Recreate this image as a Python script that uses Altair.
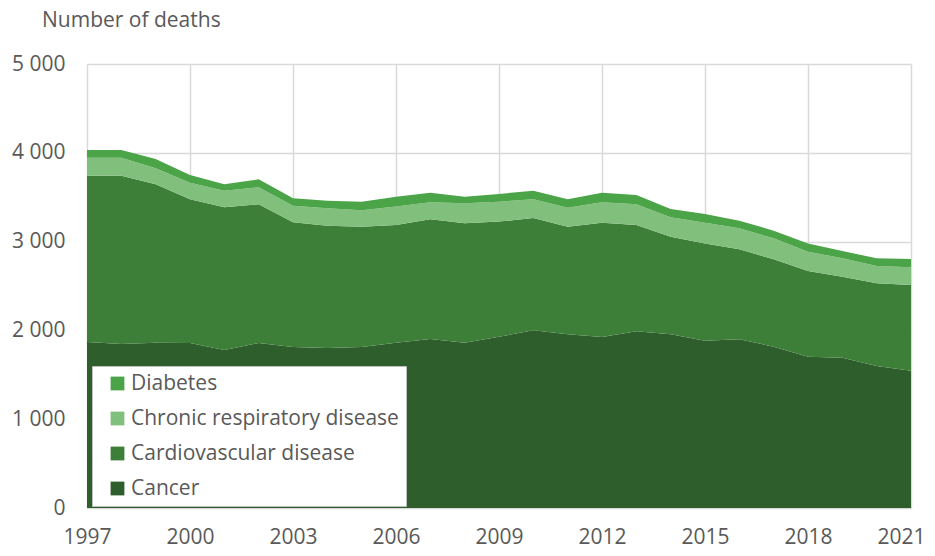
import altair as alt
import pandas as pd

years = list(range(1997, 2022))
series = ["Cancer", "Cardiovascular disease", "Chronic respiratory disease", "Diabetes"]
cancer = [1869, 1847, 1860, 1858, 1779, 1858, 1813, 1802, 1813, 1862, 1903, 1862, 1929,
          2001, 1956, 1925, 1990, 1958, 1884, 1900, 1817, 1704, 1693, 1599, 1546]
cardio = [1873, 1895, 1785, 1618, 1607, 1562, 1404, 1377, 1355, 1325, 1348, 1344, 1296,
          1265, 1212, 1288, 1197, 1097, 1096, 1013, 984, 965, 912, 931, 965]
respiratory = [203, 203, 180, 188, 188, 191, 188, 196, 184, 207, 191, 225, 225,
               210, 214, 229, 233, 219, 233, 236, 236, 218, 207, 195, 199]
diabetes = [87, 87, 105, 86, 71, 90, 83, 86, 98, 112, 109, 75, 86,
            98, 94, 109, 105, 93, 98, 87, 86, 93, 82, 87, 94]
colors = ["#2e5e2b", "#3d7f38", "#80bf7c", "#4ba447"]
x_ticks = [1997, 2000, 2003, 2006, 2009, 2012, 2015, 2018, 2021]
y_ticks = [0, 1000, 2000, 3000, 4000, 5000]

rows = []
for name, vals in zip(series, [cancer, cardio, respiratory, diabetes]):
    for y, v in zip(years, vals):
        rows.append({"year": y, "series": name, "value": v, "ord": series.index(name)})
df = pd.DataFrame(rows)

font = "Open Sans"
txt = "#595959"

chart = alt.Chart(df).mark_area(opacity=1).encode(
    x=alt.X("year:Q",
            scale=alt.Scale(domain=[1997, 2021], nice=False, zero=False),
            axis=alt.Axis(values=x_ticks, format="d", title=None, ticks=False, domain=False,
                          labelPadding=18, labelFlush=False, gridColor="#d9d9d9", gridWidth=1.5,
                          labelOffset={"condition": {"test": "datum.value == 2021", "value": -10},
                                       "value": 0})),
    y=alt.Y("value:Q", stack="zero",
            scale=alt.Scale(domain=[0, 5000], nice=False),
            axis=alt.Axis(values=y_ticks, ticks=False, domain=False, labelPadding=22,
                          labelExpr="replace(format(datum.value, ','), ',', ' ')",
                          gridColor="#d9d9d9", gridWidth=1.5, title=None)),
    color=alt.Color("series:N",
                    scale=alt.Scale(domain=series, range=colors),
                    sort=list(reversed(series)),
                    legend=alt.Legend(title=None, orient="none", legendX=5, legendY=302,
                                      fillColor="white", strokeColor="#bfbfbf", padding=7,
                                      symbolType="square", symbolSize=190, symbolOffset=8,
                                      symbolStrokeWidth=0, labelFontSize=21, labelFont=font,
                                      labelColor=txt, rowPadding=13, labelOffset=3, labelLimit=0,
                                      values=list(reversed(series)))),
    order=alt.Order("ord:Q", sort="ascending"),
).properties(
    width=824, height=444,
    title=alt.TitleParams("Number of deaths", anchor="start", frame="group", dx=-45,
                          offset=22, dy=17, baseline="alphabetic", fontSize=21, fontWeight="normal",
                          color=txt, font=font, limit=400),
    autosize=alt.AutoSizeParams(type="none"),
    padding={"left": 79, "top": 56, "right": 16, "bottom": 40},
).configure_axis(
    labelFont=font, labelFontSize=21, labelColor=txt,
).configure_view(stroke=None)

chart.save("out.html", embed_options={"renderer": "svg", "actions": False})
